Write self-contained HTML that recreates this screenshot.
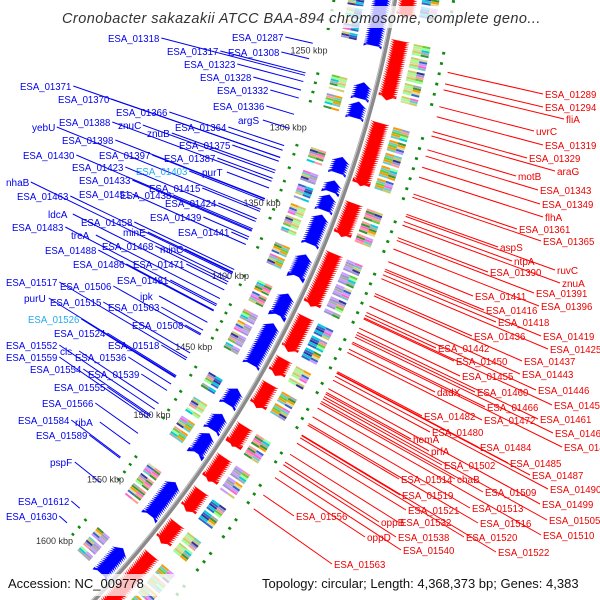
<!DOCTYPE html>
<html><head><meta charset="utf-8"><style>
html,body{margin:0;padding:0;background:#fff;overflow:hidden;width:600px;height:600px}
svg{display:block;overflow:hidden;font-family:"Liberation Sans",sans-serif}
</style></head><body>
<svg id="map" width="600" height="600" viewBox="0 0 600 600" xmlns="http://www.w3.org/2000/svg">
<g id="tracks"></g>
<g id="labels"></g>
<rect x="55" y="6" width="490" height="22" fill="#fff" opacity="0.75"/>
<text x="62" y="23" font-size="14.5" font-style="italic" fill="#333" letter-spacing="0.45">Cronobacter sakazakii ATCC BAA-894 chromosome, complete geno...</text>
<rect x="0" y="574" width="600" height="22" fill="#fff" opacity="0.75"/>
<text x="8" y="588" font-size="13" fill="#111">Accession: NC_009778</text>
<text x="262" y="588" font-size="13" fill="#111">Topology: circular; Length: 4,368,373 bp; Genes: 4,383</text>
</svg>
<script>
const genomeLength = 4368373;
const redClusters = [[1205,1220],[1235,1270],[1285,1323],[1335,1355],[1367,1400],[1408,1430],[1436,1446],[1453,1468],[1482,1495],[1504,1520],[1528,1542],[1552,1566],[1576,1625]];
const blueClusters = [[1205,1240],[1264,1273],[1276,1285],[1311,1320],[1326,1332],[1335,1344],[1348,1366],[1374,1387],[1400,1413],[1420,1447],[1465,1475],[1483,1493],[1497,1510],[1533,1557],[1584,1603]];
const tickKbp = [1250,1300,1350,1400,1450,1500,1550,1600];
const blueLabels = [["ESA_01318",108,38],["ESA_01287",232,37],["ESA_01317",167,51],["ESA_01308",228,52],["ESA_01323",184,64],["ESA_01328",200,77],["ESA_01332",217,90],["ESA_01336",213,106],["ESA_01371",20,86],["ESA_01370",58,99],["ESA_01366",116,112],["ESA_01364",175,127],["argS",238,120],["ESA_01388",59,122],["znuC",118,125],["yebU",32,127],["znuB",147,133],["ESA_01375",179,145],["ESA_01398",62,140],["ESA_01430",23,155],["ESA_01397",99,155],["ESA_01387",164,158],["purT",202,172],["ESA_01403",136,171,1],["ESA_01423",72,167],["ESA_01433",79,180],["ESA_01415",149,188],["nhaB",6,182],["ESA_01463",17,196],["ESA_01451",79,194],["ESA_01438",120,195],["ESA_01424",165,203],["ldcA",48,214],["ESA_01458",81,222],["ESA_01439",150,217],["ESA_01483",12,227],["treA",71,235],["minE",123,232],["ESA_01441",178,232],["ESA_01488",45,250],["ESA_01468",102,246],["minC",160,249],["ESA_01486",73,264],["ESA_01471",133,264],["ESA_01517",6,282],["ESA_01481",117,280],["ESA_01506",60,286],["ipk",140,296],["purU",24,298],["ESA_01515",50,302],["ESA_01503",108,307],["ESA_01526",28,319,1],["ESA_01508",132,325],["ESA_01524",54,333],["ESA_01518",108,345],["ESA_01552",6,345],["cls",60,351],["ESA_01559",6,357],["ESA_01536",75,357],["ESA_01554",30,369],["ESA_01539",88,374],["ESA_01555",54,387],["ESA_01566",42,403],["ESA_01584",18,420],["ribA",75,422],["ESA_01589",36,435],["pspF",50,462],["ESA_01612",18,501],["ESA_01630",6,516]];
const redLabels = [["ESA_01289",545,94],["ESA_01294",545,107],["fliA",566,119],["uvrC",536,131],["ESA_01319",545,145],["ESA_01329",529,158],["araG",557,171],["motB",518,176],["ESA_01343",540,190],["ESA_01349",542,204],["flhA",545,217],["ESA_01361",519,229],["ESA_01365",543,241],["aspS",500,247],["ntpA",514,261],["ruvC",557,270],["ESA_01390",490,272],["znuA",562,283],["ESA_01411",475,296],["ESA_01391",536,293],["ESA_01416",486,310],["ESA_01396",541,306],["ESA_01418",498,322],["ESA_01436",474,336],["ESA_01419",543,336],["ESA_01442",438,348],["ESA_01425",550,349],["ESA_01450",456,361],["ESA_01437",524,361],["ESA_01455",462,376],["ESA_01443",522,374],["dadX",437,392],["ESA_01460",477,392],["ESA_01446",538,390],["ESA_01466",487,407],["ESA_01452",554,405],["ESA_01482",424,416],["ESA_01472",484,420],["ESA_01461",540,419],["ESA_01480",432,432],["ESA_01467",555,433],["hemA",413,439],["ESA_01473",564,447],["prfA",431,451],["ESA_01484",480,447],["ESA_01485",510,463],["ESA_01502",444,465],["chaB",457,479],["ESA_01514",401,479],["ESA_01487",532,475],["ESA_01490",550,489],["ESA_01509",485,492],["ESA_01519",402,495],["ESA_01499",542,504],["ESA_01513",472,508],["ESA_01521",408,510],["ESA_01505",549,520],["ESA_01556",296,516],["ESA_01532",400,522],["ESA_01516",480,523],["oppB",381,522],["ESA_01510",543,535],["oppD",367,537],["ESA_01538",398,537],["ESA_01520",466,537],["ESA_01540",403,550],["ESA_01522",498,552],["ESA_01563",334,564]];
const cogColors = ["#00ccdd","#66cc33","#9999cc","#cccc66","#ff66cc","#3366cc","#ff9900","#aaaaaa","#99ff99","#ff9999","#333399","#66cccc","#cc99ff","#dddd99","#339933"];

const NS="http://www.w3.org/2000/svg";
const CX=-751, CY=-199, R=1163;
const tracks=document.getElementById('tracks');
const labelsG=document.getElementById('labels');
function ang(kbp){return (kbp*1000/genomeLength*360-90)*Math.PI/180;}
function pt(r,a){return [CX+r*Math.cos(a),CY+r*Math.sin(a)];}
function mk(tag,attrs,parent){const e=document.createElementNS(NS,tag);for(const k in attrs)e.setAttribute(k,attrs[k]);parent.appendChild(e);return e;}
function arcBox(r1,r2,a0,a1,fill,parent){
  const p=[pt(r1,a0),pt(r2,a0),pt(r2,a1),pt(r1,a1)];
  return mk('polygon',{points:p.map(q=>q[0].toFixed(1)+','+q[1].toFixed(1)).join(' '),fill:fill},parent);
}
function arrow(r1,r2,a0,a1,fwd,fill,parent){
  const h=0.28*Math.PI/180, rm=(r1+r2)/2; let p;
  if(fwd){p=[pt(r1,a0),pt(r2,a0),pt(r2,a1-h),pt(rm,a1),pt(r1,a1-h)];}
  else{p=[pt(rm,a0),pt(r2,a0+h),pt(r2,a1),pt(r1,a1),pt(r1,a0+h)];}
  return mk('polygon',{points:p.map(q=>q[0].toFixed(1)+','+q[1].toFixed(1)).join(' '),fill:fill,stroke:fill,'stroke-width':0.3},parent);
}
const bb=mk('circle',{cx:CX,cy:CY,r:R,fill:'none',stroke:'#8a8a8a','stroke-width':4.5},tracks);


mk('circle',{cx:CX,cy:CY,r:R-1.5,fill:'none',stroke:'#c8c8c8','stroke-width':1},tracks);

function drawClusters(list,outer){
  list.forEach((c,ci)=>{
    const g=mk('g',{},tracks);
    
    
    for(let k=c[0],i=0;k<c[1];k+=1.3,i++){
      const a0=ang(k),a1=ang(Math.min(k+3.2,c[1]+1));
      if(outer) arrow(R+4,R+22,a0,a1,true,'#ff0000',g);
      else arrow(R-22,R-4,a0,a1,false,'#0000ff',g);
      const col=cogColors[(i*5+ci*3)%cogColors.length];
      const col2=cogColors[(i*7+ci)%cogColors.length];
      if(i%6!==5){
        if(outer){arcBox(R+27,R+36,a0,ang(k+1.2),col,g);arcBox(R+36,R+44,a0,ang(k+1.2),col2,g);}
        else{arcBox(R-38,R-30,a0,ang(k+1.2),col,g);arcBox(R-46,R-38,a0,ang(k+1.2),col2,g);}
      }
    }
    for(let k=c[0]+1;k<c[1];k+=6){
      const d=outer?R+58:R-60;
      arcBox(d-1.5,d+1.5,ang(k),ang(k+1.5),'#118811',g);
    }
  });
}
drawClusters(redClusters,true);
drawClusters(blueClusters,false);

tickKbp.forEach(t=>{
  const a=ang(t);const p=pt(R-54,a);
  const tl=mk('text',{x:(p[0]-2).toFixed(1),y:(p[1]+3).toFixed(1),'font-size':9,fill:'#333','text-anchor':'end'},tracks);
  tl.textContent=t+' kbp';
  
  
});

function tw(s){return s.length*5.7;}
function labelAttrs(name,x,y,fill){
  const a={x:x,y:y,'font-size':10.5,fill:fill};
  if(name.length>=9){a.textLength=tw(name).toFixed(1);a.lengthAdjust='spacingAndGlyphs';}
  else{a['font-size']=10;}
  return a;
}
blueLabels.forEach(l=>{
  const w=tw(l[0]);const sx=l[1]+w+2, sy=l[2];
  const dx=sx-CX, dy=sy-CY, d=Math.hypot(dx,dy);
  const rt=Math.max(R-72,d+4);
  const ln=mk('line',{x1:sx,y1:sy,x2:CX+dx/d*rt,y2:CY+dy/d*rt,stroke:'#0000ee','stroke-width':1},labelsG);
  
  
  const t=mk('text',labelAttrs(l[0],l[1],l[2]+4,l[3]?'#22aaee':'#0000ee'),labelsG);
  t.textContent=l[0];
  
  
});
redLabels.forEach(l=>{
  const sx=l[1]-2, sy=l[2];
  const dx=sx-CX, dy=sy-CY, d=Math.hypot(dx,dy);
  const rt=R+66;
  const ln=mk('line',{x1:sx,y1:sy,x2:CX+dx/d*rt,y2:CY+dy/d*rt,stroke:'#ff0000','stroke-width':1},labelsG);
  
  
  const t=mk('text',labelAttrs(l[0],l[1],l[2]+4,'#ee0000'),labelsG);
  t.textContent=l[0];
  
  
});
</script>
</body></html>
